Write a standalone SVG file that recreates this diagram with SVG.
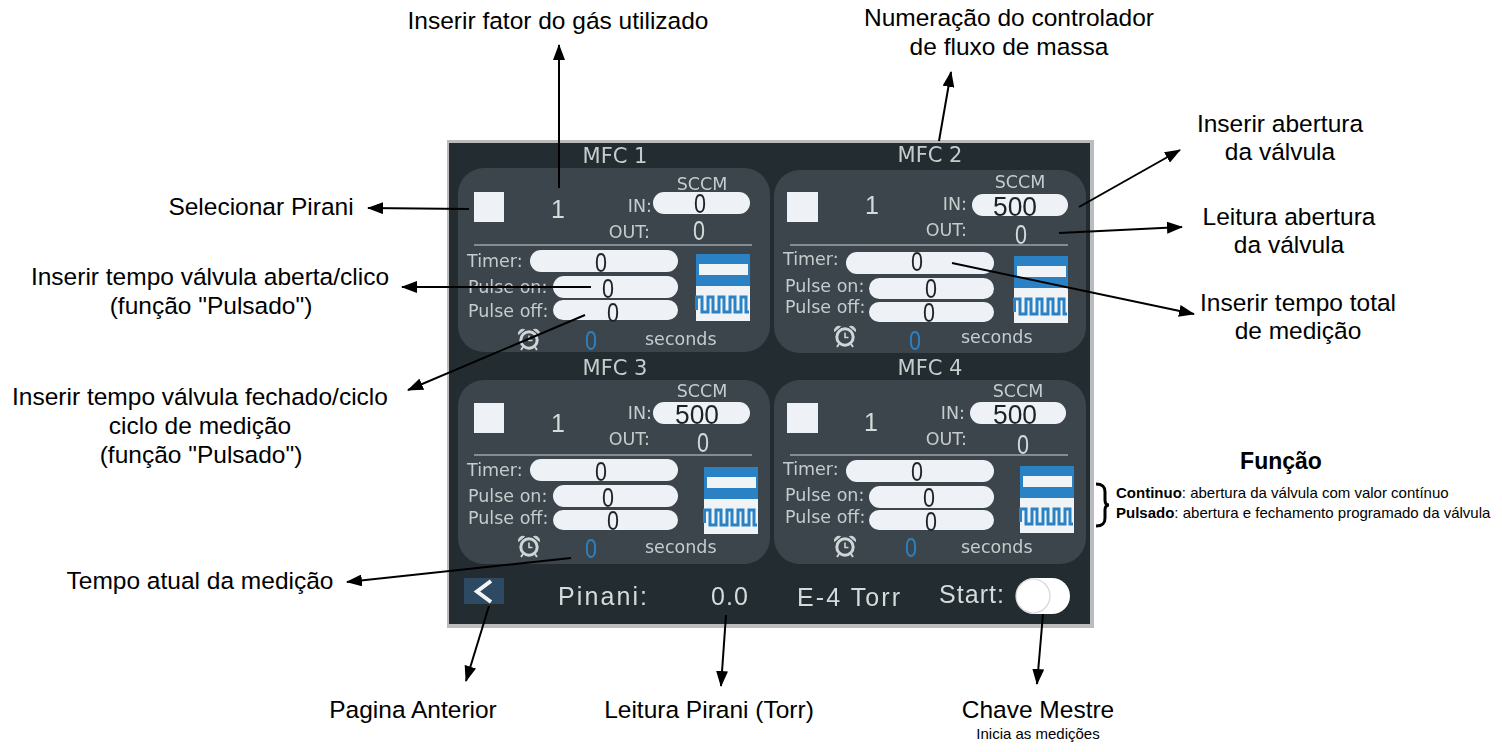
<svg xmlns="http://www.w3.org/2000/svg" width="1502" height="752" viewBox="0 0 1502 752">
<style>
.n{font-family:"Liberation Sans",Arial,sans-serif;font-size:24.5px;fill:#000;text-anchor:middle}
.s{font-family:"Liberation Sans",Arial,sans-serif;font-size:15px;fill:#000}
.b{font-weight:bold}
.f{font-size:23px}
.u{font-family:"DejaVu Sans",sans-serif;font-size:17.5px;fill:#c6ccce}
.e{text-anchor:end}
.m{text-anchor:middle}
.t{font-size:21px}
.h{font-family:"Liberation Sans",Arial,sans-serif;font-size:25px;fill:#d5dadb}
.d{font-family:"Liberation Sans",Arial,sans-serif;font-size:27px;text-anchor:middle;fill:#1e2326}
.dl{fill:#d5dadb}
.db{fill:#2b82c4}
.panel{fill:#3a454b}
.pill{fill:#eef2f7}
.sq{fill:#eef2f7}
.div{stroke:#9da5a8;stroke-width:1.6}
.c{fill:none;stroke:#000;stroke-width:2;marker-end:url(#ah)}
</style>
<defs>
<marker id="ah" markerUnits="userSpaceOnUse" markerWidth="16" markerHeight="12" refX="15" refY="6" orient="auto"><path d="M0 0L16 6L0 12Z" fill="#000"/></marker>
<filter id="soft" x="-2%" y="-2%" width="104%" height="104%"><feGaussianBlur stdDeviation="0.55"/></filter>
<g id="icon">
<rect width="54" height="67" fill="#f1f4f7"/>
<rect width="54" height="32" fill="#2b82c4"/>
<rect x="3" y="10" width="49" height="11" fill="#f1f4f7"/>
<path d="M0.5 56V43H6V58H12V43H17V58H23V43H28V58H34V43H39V58H45V43H50V58H53" fill="none" stroke="#2b82c4" stroke-width="3"/>
</g>
<g id="clock" fill="none" stroke="#d0d5d7">
<circle r="8.2" stroke-width="3"/>
<path d="M0-4.5V0.5H3.5" stroke-width="1.6"/>
<path d="M-10.5-5.5A4.5 4.5 0 0 1-4.5-10.5ZM10.5-5.5A4.5 4.5 0 0 0 4.5-10.5Z" fill="#d0d5d7" stroke-width="1"/>
<path d="M-6 7L-8 10M6 7L8 10" stroke-width="2"/>
</g>
</defs>

<g id="screen">
<rect x="447" y="140" width="647" height="488" fill="#bcbcbc"/>
<rect x="449" y="143" width="641" height="481" fill="#232c30"/>
<g filter="url(#soft)">
<g id="mfc1">
<text class="u t m" x="615" y="163">MFC 1</text>
<rect class="panel" x="458" y="168" width="312" height="184" rx="26"/>
<rect class="sq" x="474" y="192" width="30" height="30"/>
<text class="h m" x="558" y="218">1</text>
<text class="u m" x="702" y="190">SCCM</text>
<text class="u e" x="652" y="212">IN:</text>
<rect class="pill" x="653" y="192" width="97" height="22" rx="11"/>
<text class="d" x="700" y="213" textLength="12" lengthAdjust="spacingAndGlyphs">0</text>
<text class="u e" x="650" y="238">OUT:</text>
<text class="d dl" x="699" y="240" textLength="12" lengthAdjust="spacingAndGlyphs">0</text>
<line class="div" x1="474" y1="245" x2="752" y2="245"/>
<text class="u" x="467" y="267">Timer:</text>
<rect class="pill" x="530" y="250" width="148" height="22" rx="11"/>
<text class="d" x="601" y="272" textLength="12" lengthAdjust="spacingAndGlyphs">0</text>
<text class="u" x="468" y="293">Pulse on:</text>
<rect class="pill" x="553" y="276" width="125" height="22" rx="11"/>
<text class="d" x="608" y="298" textLength="12" lengthAdjust="spacingAndGlyphs">0</text>
<text class="u" x="468" y="317">Pulse off:</text>
<rect class="pill" x="553" y="300" width="125" height="20" rx="10"/>
<text class="d" x="613" y="322" textLength="12" lengthAdjust="spacingAndGlyphs">0</text>
<use href="#icon" x="696" y="254"/>
<use href="#clock" x="529" y="340"/>
<text class="d db" x="591" y="350" textLength="12" lengthAdjust="spacingAndGlyphs">0</text>
<text class="u" x="645" y="345">seconds</text>
</g>
<g id="mfc2">
<text class="u t m" x="930" y="162">MFC 2</text>
<rect class="panel" x="774" y="170" width="312" height="183" rx="26"/>
<rect class="sq" x="787" y="192" width="31" height="30"/>
<text class="h m" x="872" y="214">1</text>
<text class="u m" x="1020" y="188">SCCM</text>
<text class="u e" x="967" y="210">IN:</text>
<rect class="pill" x="972" y="194" width="96" height="22" rx="11"/>
<text class="d" x="1015" y="216" textLength="44" lengthAdjust="spacingAndGlyphs">500</text>
<text class="u e" x="967" y="236">OUT:</text>
<text class="d dl" x="1021" y="244" textLength="12" lengthAdjust="spacingAndGlyphs">0</text>
<line class="div" x1="790" y1="245" x2="1068" y2="245"/>
<text class="u" x="783" y="265">Timer:</text>
<rect class="pill" x="846" y="252" width="148" height="22" rx="11"/>
<text class="d" x="917" y="271" textLength="12" lengthAdjust="spacingAndGlyphs">0</text>
<text class="u" x="785" y="292">Pulse on:</text>
<rect class="pill" x="869" y="278" width="125" height="21" rx="10.5"/>
<text class="d" x="931" y="298" textLength="12" lengthAdjust="spacingAndGlyphs">0</text>
<text class="u" x="785" y="313">Pulse off:</text>
<rect class="pill" x="869" y="302" width="125" height="20" rx="10"/>
<text class="d" x="929" y="322" textLength="12" lengthAdjust="spacingAndGlyphs">0</text>
<use href="#icon" x="1014" y="256"/>
<use href="#clock" x="845" y="337"/>
<text class="d db" x="915" y="350" textLength="12" lengthAdjust="spacingAndGlyphs">0</text>
<text class="u" x="961" y="343">seconds</text>
</g>
<g id="mfc3">
<text class="u t m" x="615" y="375">MFC 3</text>
<rect class="panel" x="458" y="380" width="312" height="184" rx="26"/>
<rect class="sq" x="474" y="403" width="30" height="30"/>
<text class="h m" x="558" y="432">1</text>
<text class="u m" x="702" y="397">SCCM</text>
<text class="u e" x="652" y="419">IN:</text>
<rect class="pill" x="653" y="402" width="97" height="22" rx="11"/>
<text class="d" x="697" y="424" textLength="44" lengthAdjust="spacingAndGlyphs">500</text>
<text class="u e" x="650" y="445">OUT:</text>
<text class="d dl" x="703" y="452" textLength="12" lengthAdjust="spacingAndGlyphs">0</text>
<line class="div" x1="474" y1="455" x2="752" y2="455"/>
<text class="u" x="467" y="476">Timer:</text>
<rect class="pill" x="530" y="459" width="148" height="22" rx="11"/>
<text class="d" x="601" y="481" textLength="12" lengthAdjust="spacingAndGlyphs">0</text>
<text class="u" x="468" y="502">Pulse on:</text>
<rect class="pill" x="553" y="485" width="125" height="22" rx="11"/>
<text class="d" x="608" y="507" textLength="12" lengthAdjust="spacingAndGlyphs">0</text>
<text class="u" x="468" y="524">Pulse off:</text>
<rect class="pill" x="553" y="510" width="125" height="20" rx="10"/>
<text class="d" x="613" y="530" textLength="12" lengthAdjust="spacingAndGlyphs">0</text>
<use href="#icon" x="704" y="467"/>
<use href="#clock" x="529" y="547"/>
<text class="d db" x="591" y="558" textLength="12" lengthAdjust="spacingAndGlyphs">0</text>
<text class="u" x="645" y="553">seconds</text>
</g>
<g id="mfc4">
<text class="u t m" x="930" y="375">MFC 4</text>
<rect class="panel" x="774" y="380" width="312" height="184" rx="26"/>
<rect class="sq" x="787" y="403" width="31" height="30"/>
<text class="h m" x="871" y="431">1</text>
<text class="u m" x="1018" y="397">SCCM</text>
<text class="u e" x="965" y="419">IN:</text>
<rect class="pill" x="970" y="402" width="96" height="22" rx="11"/>
<text class="d" x="1015" y="424" textLength="44" lengthAdjust="spacingAndGlyphs">500</text>
<text class="u e" x="967" y="445">OUT:</text>
<text class="d dl" x="1023" y="454" textLength="12" lengthAdjust="spacingAndGlyphs">0</text>
<line class="div" x1="790" y1="455" x2="1068" y2="455"/>
<text class="u" x="783" y="475">Timer:</text>
<rect class="pill" x="846" y="460" width="148" height="22" rx="11"/>
<text class="d" x="917" y="481" textLength="12" lengthAdjust="spacingAndGlyphs">0</text>
<text class="u" x="785" y="501">Pulse on:</text>
<rect class="pill" x="869" y="486" width="125" height="22" rx="11"/>
<text class="d" x="929" y="507" textLength="12" lengthAdjust="spacingAndGlyphs">0</text>
<text class="u" x="785" y="523">Pulse off:</text>
<rect class="pill" x="869" y="510" width="125" height="20" rx="10"/>
<text class="d" x="931" y="531" textLength="12" lengthAdjust="spacingAndGlyphs">0</text>
<use href="#icon" x="1020" y="466"/>
<use href="#clock" x="845" y="547"/>
<text class="d db" x="911" y="557" textLength="12" lengthAdjust="spacingAndGlyphs">0</text>
<text class="u" x="961" y="553">seconds</text>
</g>
<g id="bottom-bar">
<rect x="464" y="578" width="40" height="26" fill="#2f4a62"/>
<path d="M491 581L477 591.500L491 602" fill="none" stroke="#f1f4f7" stroke-width="4"/>
<text class="h" x="558" y="605" textLength="89">Pinani:</text>
<text class="h" x="711" y="605" textLength="37">0.0</text>
<text class="h" x="797" y="606" textLength="103">E-4 Torr</text>
<text class="h" x="939" y="603" textLength="65">Start:</text>
<rect x="1016" y="578" width="54" height="36" rx="18" fill="#fff"/>
<circle cx="1033" cy="596" r="17" fill="#fff" stroke="#d3d6d8" stroke-width="1.2"/>
</g>
</g>
</g>

<g id="connectors">
<path class="c" d="M559 188V45"/>
<path class="c" d="M939 141L951 72"/>
<path class="c" d="M469 209L368 208"/>
<path class="c" d="M591 287H402"/>
<path class="c" d="M585 315L408 390"/>
<path class="c" d="M571 558L347 582"/>
<path class="c" d="M489 606L466 681"/>
<path class="c" d="M726 615L721 686"/>
<path class="c" d="M1043 614L1037 684"/>
<path class="c" d="M1079 207L1180 150"/>
<path class="c" d="M1059 233L1182 227"/>
<path class="c" d="M952 263L1194 314"/>
</g>

<g id="label-fator"><text class="n" x="558" y="29">Inserir fator do gás utilizado</text></g>
<g id="label-numeracao"><text class="n" x="1009" y="26">Numeração do controlador</text><text class="n" x="1009" y="55">de fluxo de massa</text></g>
<g id="label-pirani-sel"><text class="n" x="261" y="215">Selecionar Pirani</text></g>
<g id="label-aberta"><text class="n" x="210" y="285">Inserir tempo válvula aberta/clico</text><text class="n" x="211" y="314">(função "Pulsado")</text></g>
<g id="label-fechado"><text class="n" x="200" y="405">Inserir tempo válvula fechado/ciclo</text><text class="n" x="200" y="434">ciclo de medição</text><text class="n" x="201" y="463">(função "Pulsado")</text></g>
<g id="label-atual"><text class="n" x="200" y="589">Tempo atual da medição</text></g>
<g id="label-anterior"><text class="n" x="413" y="718">Pagina Anterior</text></g>
<g id="label-leitura-pirani"><text class="n" x="709" y="718">Leitura Pirani (Torr)</text></g>
<g id="label-chave"><text class="n" x="1038" y="718">Chave Mestre</text><text class="s m" x="1038" y="739">Inicia as medições</text></g>
<g id="label-abertura"><text class="n" x="1280" y="132">Inserir abertura</text><text class="n" x="1280" y="160">da válvula</text></g>
<g id="label-leitura"><text class="n" x="1289" y="225">Leitura abertura</text><text class="n" x="1289" y="253">da válvula</text></g>
<g id="label-total"><text class="n" x="1298" y="311">Inserir tempo total</text><text class="n" x="1298" y="339">de medição</text></g>
<g id="label-funcao">
<text class="n b f" x="1281" y="469">Função</text>
<path d="M1096 484C1103 484 1105 487 1105 492V500C1105 503 1106 505 1109 505C1106 505 1105 507 1105 510V518C1105 523 1103 526 1096 526" fill="none" stroke="#000" stroke-width="3"/>
<text class="s" x="1116" y="498"><tspan class="b">Continuo</tspan>: abertura da válvula com valor contínuo</text>
<text class="s" x="1116" y="518"><tspan class="b">Pulsado</tspan>: abertura e fechamento programado da válvula</text>
</g>
</svg>
